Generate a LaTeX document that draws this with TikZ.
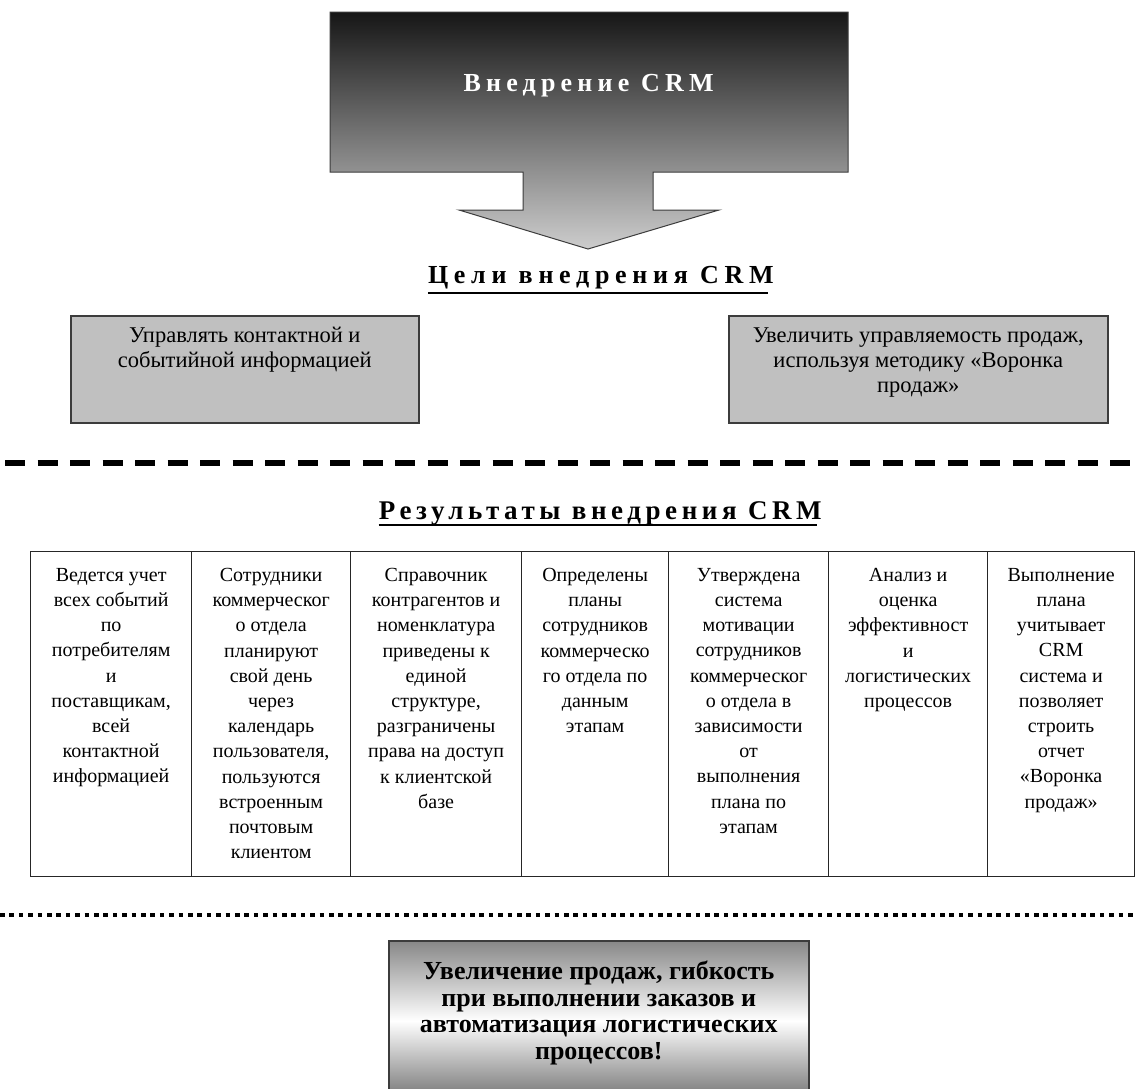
\documentclass[tikz,border=0pt]{standalone}
\usepackage{fontspec}
\setmainfont{Liberation Serif}
\newfontfamily\topfont[LetterSpace=20]{Liberation Serif}
\newfontfamily\celifont[LetterSpace=22]{Liberation Serif}
\newfontfamily\resfont[LetterSpace=17]{Liberation Serif}
\definecolor{goalgray}{RGB}{192,192,192}
\definecolor{arrowtop}{RGB}{22,22,22}
\definecolor{arrowbot}{RGB}{205,205,205}
\definecolor{edgegray}{RGB}{60,60,60}
\definecolor{resgray}{RGB}{135,135,135}
\begin{document}
\begin{tikzpicture}[x=1pt,y=-1pt,
  goalbox/.style={draw=edgegray, line width=1.5pt, fill=goalgray},
  goaltext/.style={align=center, font=\fontsize{22.5}{25}\selectfont, inner sep=0pt, anchor=north},
  cellbox/.style={draw=black!85, line width=1.3pt, rectangle, anchor=north west, inner sep=0pt, minimum height=325pt},
  celltext/.style={align=center, font=\fontsize{20}{25.2}\selectfont, inner sep=0pt, anchor=north},
  heading/.style={inner sep=0pt, anchor=base},
  uline/.style={line width=2.5pt, black}
]
\useasboundingbox (0,0) rectangle (1135,1088);
\fill[white] (0,0) rectangle (1135,1088);

% big arrow
\shade[top color=arrowtop, bottom color=arrowbot, draw=edgegray, line width=1pt]
  (330,12) -- (848,12) -- (848,172) -- (653,172) -- (653,210) -- (719,210)
  -- (588,249) -- (459,210) -- (523,210) -- (523,172) -- (330,172) -- cycle;
\node[inner sep=0pt, text=white, font=\topfont\fontsize{26}{30}\selectfont\bfseries] (impl) at (586,86) {Внедрение CRM\kern-0.2em};

% goals heading
\node[heading, font=\celifont\fontsize{26}{30}\selectfont\bfseries] (goalshead) at (598,283) {Цели внедрения CRM\kern-0.22em};
\draw[uline] ([yshift=-10pt]goalshead.base west) -- ([yshift=-10pt]goalshead.base east);

% goal boxes
\node[goalbox, minimum width=348pt, minimum height=107pt, anchor=north west] (g1) at (70,315) {};
\node[goaltext] (g1t) at ([yshift=-12pt]g1.north) {Управлять контактной и\\событийной информацией};
\node[goalbox, minimum width=379pt, minimum height=107pt, anchor=north west] (g2) at (728,315) {};
\node[goaltext] (g2t) at ([yshift=-13pt]g2.north) {Увеличить управляемость продаж,\\используя методику «Воронка\\продаж»};

% dashed separator
\coordinate (dashL) at (5,463);
\coordinate (dashR) at (1135,463);
\draw[line width=6pt, dash pattern=on 20pt off 12.5pt] (dashL) -- (dashR);

% results heading
\node[heading, font=\resfont\fontsize{27}{30}\selectfont\bfseries] (reshead) at (598,519) {Результаты внедрения CRM\kern-0.17em};
\draw[uline] ([yshift=-6pt]reshead.base west) -- ([yshift=-6pt]reshead.base east);

% table cells
\node[cellbox, minimum width=161pt] (c1) at (30,551) {};
\node[cellbox, minimum width=159pt] (c2) at (191,551) {};
\node[cellbox, minimum width=171pt] (c3) at (350,551) {};
\node[cellbox, minimum width=147pt] (c4) at (521,551) {};
\node[cellbox, minimum width=160pt] (c5) at (668,551) {};
\node[cellbox, minimum width=159pt] (c6) at (828,551) {};
\node[cellbox, minimum width=147pt] (c7) at (987,551) {};

\node[celltext] (t1) at ([yshift=-17pt]c1.north) {Ведется учет\\всех событий\\по\\потребителям\\и\\поставщикам,\\всей\\контактной\\информацией};
\node[celltext] (t2) at ([yshift=-17pt]c2.north) {Сотрудники\\коммерческог\\о отдела\\планируют\\свой день\\через\\календарь\\пользователя,\\пользуются\\встроенным\\почтовым\\клиентом};
\node[celltext] (t3) at ([yshift=-17pt]c3.north) {Справочник\\контрагентов и\\номенклатура\\приведены к\\единой\\структуре,\\разграничены\\права на доступ\\к клиентской\\базе};
\node[celltext] (t4) at ([yshift=-17pt]c4.north) {Определены\\планы\\сотрудников\\коммерческо\\го отдела по\\данным\\этапам};
\node[celltext] (t5) at ([yshift=-17pt]c5.north) {Утверждена\\система\\мотивации\\сотрудников\\коммерческог\\о отдела в\\зависимости\\от\\выполнения\\плана по\\этапам};
\node[celltext] (t6) at ([yshift=-17pt]c6.north) {Анализ и\\оценка\\эффективност\\и\\логистических\\процессов};
\node[celltext] (t7) at ([yshift=-17pt]c7.north) {Выполнение\\плана\\учитывает\\CRM\\система и\\позволяет\\строить\\отчет\\«Воронка\\продаж»};

% dotted separator
\coordinate (dotL) at (0,915);
\coordinate (dotR) at (1135,915);
\draw[line width=4pt, dash pattern=on 4.5pt off 4.9pt] (dotL) -- (dotR);

% result box
\node[draw=edgegray, line width=1.5pt, top color=resgray, bottom color=resgray!85!black, middle color=white,
  minimum width=420pt, minimum height=160pt, anchor=north west, inner sep=0pt] (res) at (388,940) {};
\node[align=center, inner sep=0pt, anchor=north, font=\fontsize{26}{26.5}\selectfont\bfseries] (rest) at ([yshift=-21pt]res.north) {Увеличение продаж, гибкость\\при выполнении заказов и\\автоматизация логистических\\процессов!};
\end{tikzpicture}
\end{document}
